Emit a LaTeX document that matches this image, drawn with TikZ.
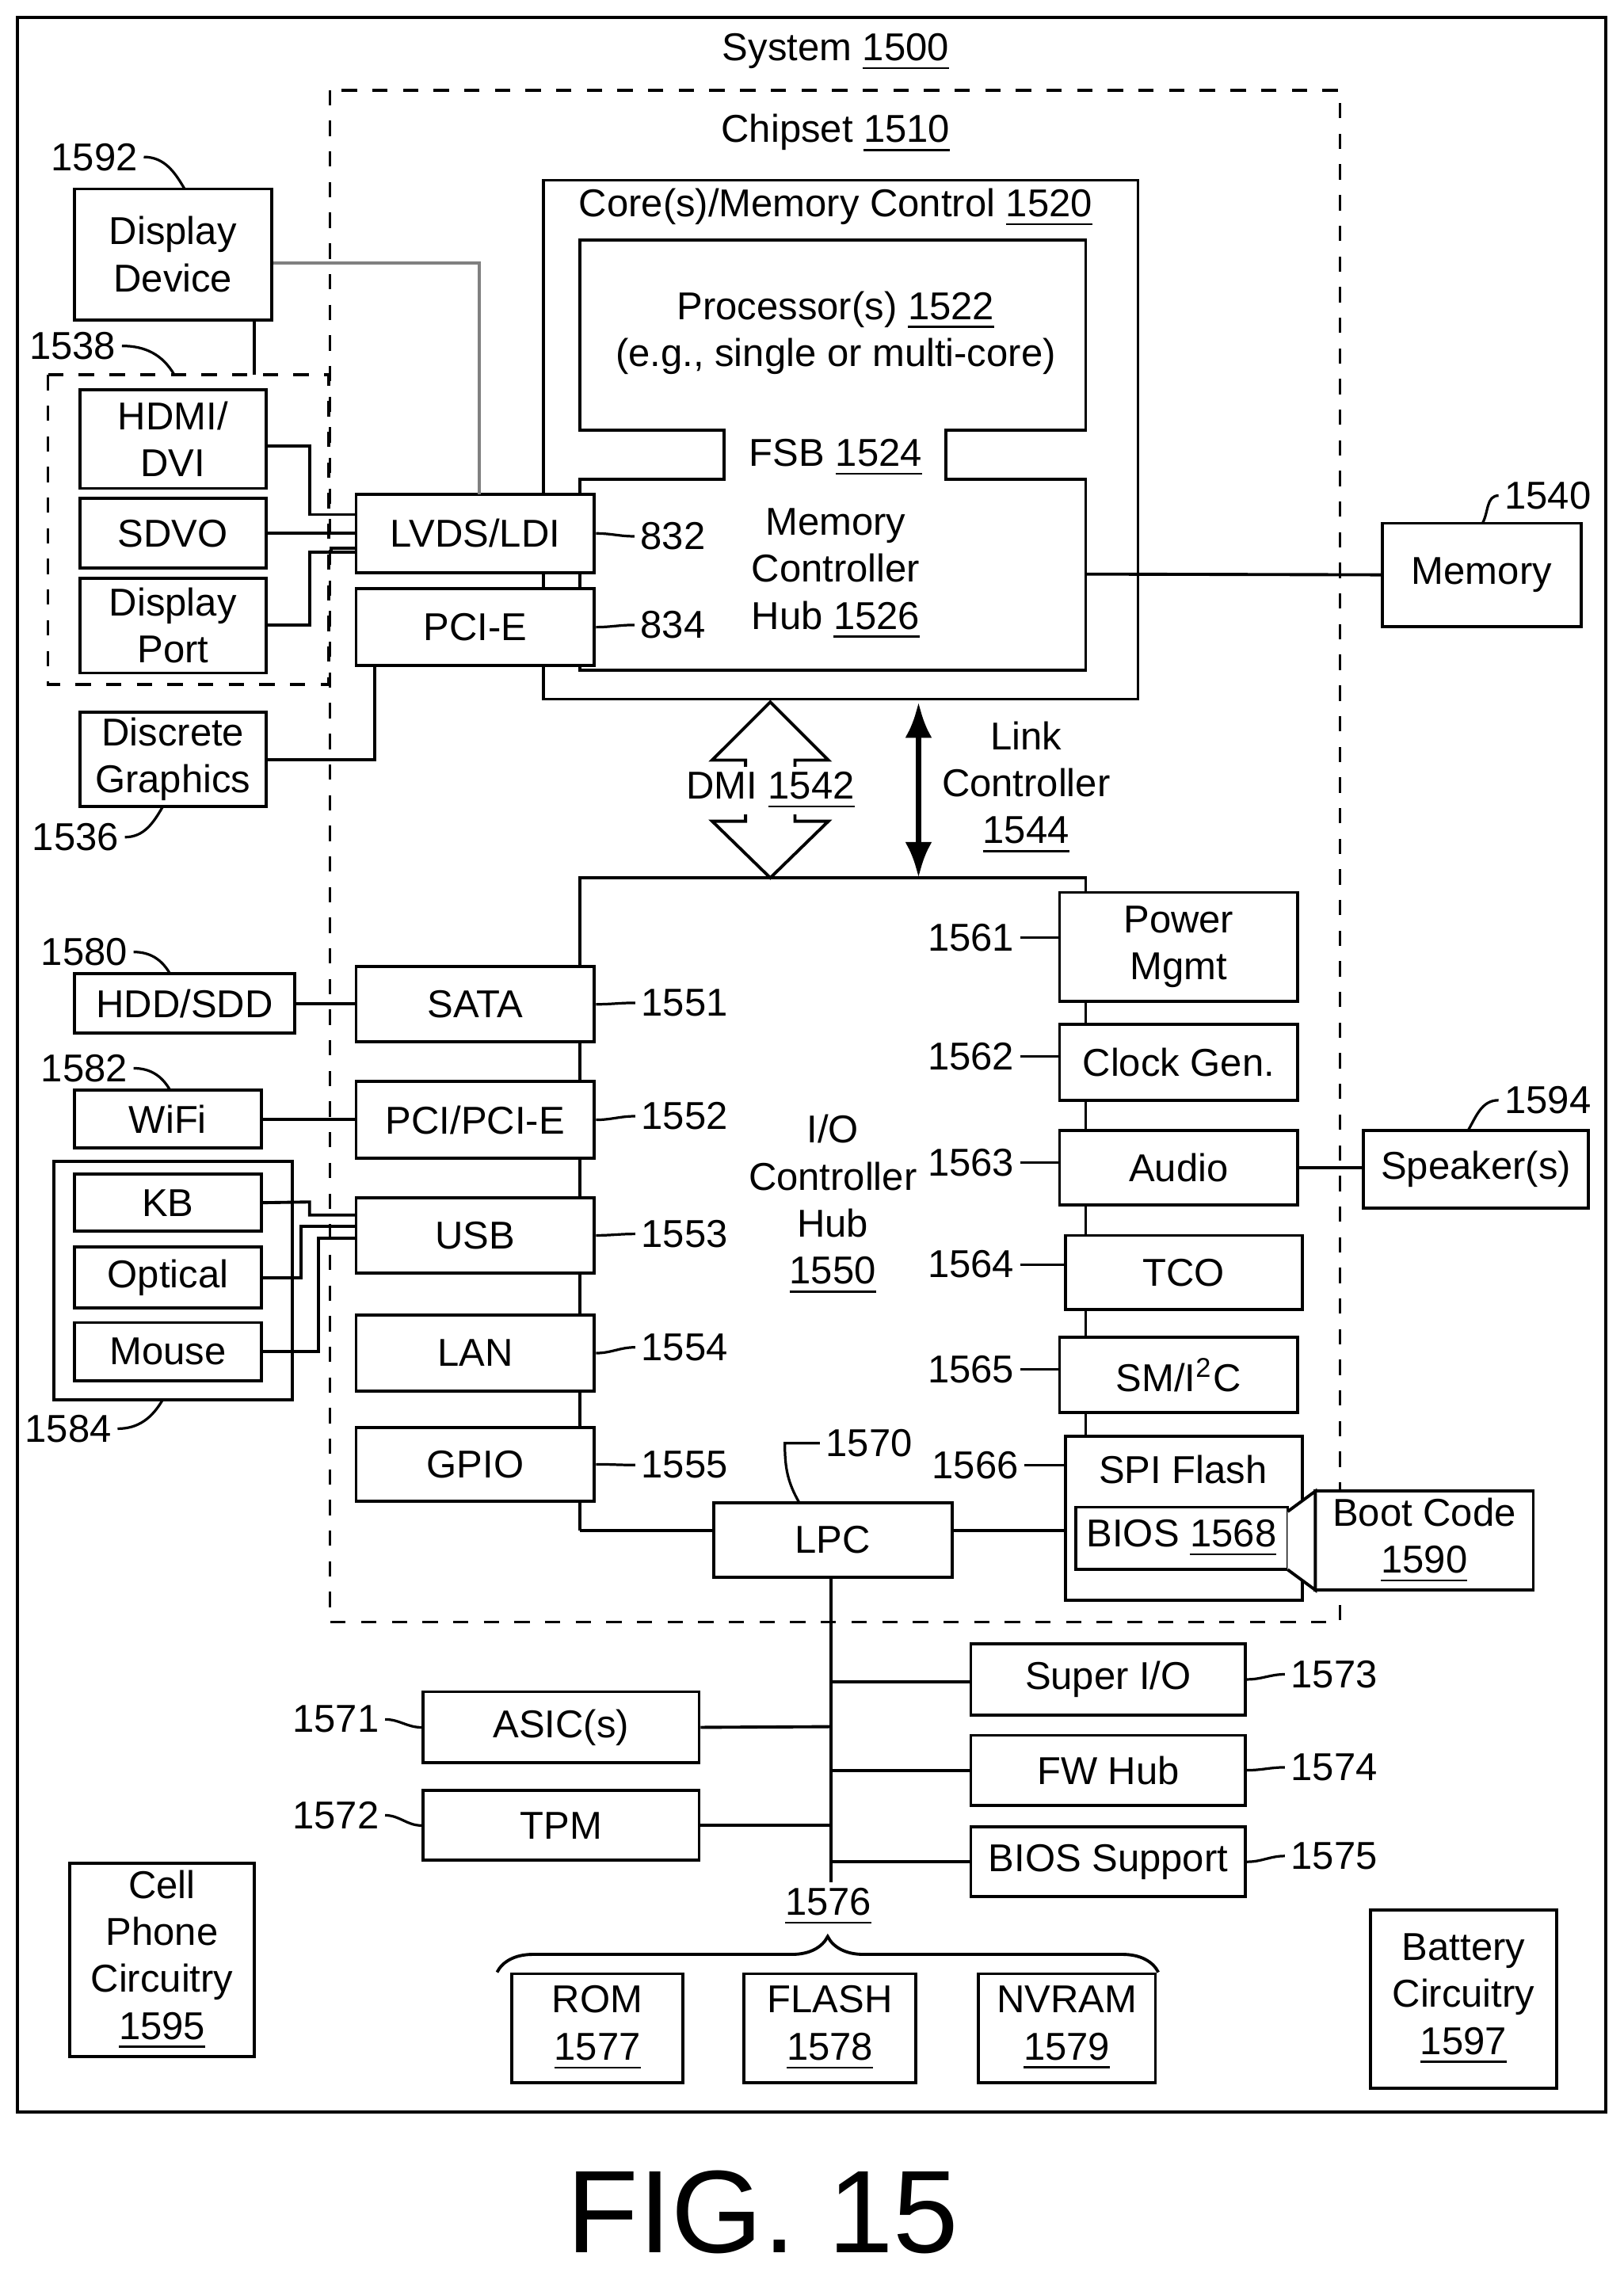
\documentclass[tikz,border=0pt]{standalone}
\usepackage{fontspec}
\setmainfont{Liberation Sans}
\usetikzlibrary{fit,decorations.pathreplacing,arrows.meta}
\newcommand{\un}[1]{\underline{#1}}
\tikzset{
  box/.style={draw, fill=white, inner sep=0pt, line width=0.6pt, label={[align=center]center:#1}},
  box/.default={},
  num/.style={inner sep=1pt},
  lead/.style={line width=0.5pt},
  wire/.style={line width=0.6pt}
}
\begin{document}
\begin{tikzpicture}[x=0.1mm, y=-0.1mm, font=\fontsize{7.6}{9.2}\selectfont]
		\useasboundingbox (0,0) rectangle (1117,1566);

		% frames
		\draw[line width=0.6pt] (12,12) rectangle (1105,1453);
		\node (sys) at (575,36) {System \un{1500}};
		\draw[dashed, line width=0.6pt] (227,62) rectangle (922,1116);
		\node (chip) at (575,92) {Chipset \un{1510}};

		% core / memory control
		\node[box, fit={(374,124)(783,481)}] (core) {};
		\node (corel) at (575,143) {Core(s)/Memory Control \un{1520}};
		\draw[line width=0.6pt, fill=white] (399,165) -- (747,165) -- (747,296) -- (651,296) -- (651,330) -- (747,330)
			-- (747,461) -- (399,461) -- (399,330) -- (498,330) -- (498,296) -- (399,296) -- cycle;
		\node[align=center] (proc) at (575,229) {Processor(s) \un{1522}\\(e.g., single or multi-core)};
		\node (fsb) at (575,315) {FSB \un{1524}};
		\node[align=center] (mch) at (575,395) {Memory\\Controller\\Hub \un{1526}};

		% display side
		\node[box={Display\\Device}, fit={(51,130)(187,220)}] (disp) {};
		\node[num] (n1592) at (65,108) {1592};
		\draw[dashed, line width=0.6pt] (33,258) rectangle (226,471);
		\node[num] (n1538) at (50,238) {1538};
		\node[box={HDMI/\\DVI}, fit={(55,268)(183,336)}] (hdmi) {};
		\node[box=SDVO, fit={(55,343)(183,391)}] (sdvo) {};
		\node[box={Display\\Port}, fit={(55,398)(183,463)}] (dport) {};
		\node[box={Discrete\\Graphics}, fit={(55,490)(183,555)}] (dgfx) {};
		\node[num] (n1536) at (52,576) {1536};
		\node[box=LVDS/LDI, fit={(245,340)(409,394)}] (lvds) {};
		\node[box=PCI-E, fit={(245,405)(409,458)}] (pcie) {};
		\node[num] (n832) at (463,369) {832};
		\node[num] (n834) at (463,430) {834};

		\draw[wire, gray] (disp.east |- 0,181) -| (330,340);
		\draw[wire] (175,220) -- (175,258);
		\draw[wire] (hdmi.east |- 0,307) -- (213,307) |- (lvds.west |- 0,354);
		\draw[wire] (sdvo.east) -- (lvds.west |- sdvo.east);
		\draw[wire] (dport.east |- 0,430) -- (213,430) -- (213,380) -- (245,380);
		\draw[wire] (228,380) -- (228,377) -- (245,377);
		\draw[wire] (dgfx.east) -| (258,458);

		% memory
		\node[box=Memory, fit={(951,360)(1088,431)}] (mem) {};
		\node[num] (n1540) at (1065,341) {1540};
		\draw[wire] (747,395) -- (mem.west);

		% DMI and link controller
		\draw[line width=0.6pt, fill=white] (530,483) -- (570,523) -- (547,523) -- (547,565) -- (570,565) -- (530,604)
			-- (490,565) -- (513,565) -- (513,523) -- (490,523) -- cycle;
		\node[fill=white, inner sep=1pt] (dmi) at (530,544) {DMI \un{1542}};
		\draw[line width=1.2pt, {Latex[length=7pt]}-{Latex[length=7pt]}] (632,483) -- (632,604);
		\node[align=center] (link) at (706,542) {Link\\Controller\\\un{1544}};

		% I/O controller hub
		\draw[wire] (399,1053) -- (399,604) -- (747,604) -- (747,988);
		\node[align=center] (ich) at (573,829) {I/O\\Controller\\Hub\\\un{1550}};
		\node[box=SATA, fit={(245,665)(409,717)}] (sata) {};
		\node[box=PCI/PCI-E, fit={(245,744)(409,797)}] (pci) {};
		\node[box=USB, fit={(245,824)(409,876)}] (usb) {};
		\node[box=LAN, fit={(245,905)(409,957)}] (lan) {};
		\node[box=GPIO, fit={(245,982)(409,1033)}] (gpio) {};
		\node[num] (n1551) at (471,690) {1551};
		\node[num] (n1552) at (471,768) {1552};
		\node[num] (n1553) at (471,849) {1553};
		\node[num] (n1554) at (471,927) {1554};
		\node[num] (n1555) at (471,1008) {1555};

		\node[box={Power\\Mgmt}, fit={(729,614)(893,689)}] (pwr) {};
		\node[box=Clock Gen., fit={(729,705)(893,757)}] (clk) {};
		\node[box=Audio, fit={(729,778)(893,829)}] (aud) {};
		\node[box=TCO, fit={(733,850)(896,901)}] (tco) {};
		\node[box=SM/I\textsuperscript{2}C, fit={(729,920)(893,972)}] (smb) {};
		\node[box, fit={(733,988)(896,1101)}] (spi) {};
		\node (spil) at (814,1011) {SPI Flash};
		\node[box={BIOS \un{1568}}, fit={(740,1037)(886,1080)}] (bios) {};
		\node[num] (n1561) at (668,645) {1561};
		\node[num] (n1562) at (668,727) {1562};
		\node[num] (n1563) at (668,800) {1563};
		\node[num] (n1564) at (668,870) {1564};
		\node[num] (n1565) at (668,942) {1565};
		\node[num] (n1566) at (671,1008) {1566};

		\node[box={Boot Code\\\un{1590}}, fit={(905,1026)(1055,1094)}] (boot) {};
		\draw[line width=0.6pt, fill=white] (886,1040) -- (905,1026) -- (905,1094) -- (886,1080);

		\node[box=LPC, fit={(491,1034)(655,1085)}] (lpc) {};
		\node[num] (n1570) at (598,993) {1570};
		\draw[wire] (399,1053) -- (lpc.west |- 0,1053);
		\draw[wire] (lpc.east |- 0,1053) -- (spi.west |- 0,1053);

		% left devices
		\node[box=HDD/SDD, fit={(51,670)(203,711)}] (hdd) {};
		\node[num] (n1580) at (58,655) {1580};
		\node[box=WiFi, fit={(51,750)(180,790)}] (wifi) {};
		\node[num] (n1582) at (58,735) {1582};
		\draw[line width=0.6pt] (37,799) rectangle (201,963);
		\node[box=KB, fit={(51,808)(180,847)}] (kb) {};
		\node[box=Optical, fit={(51,858)(180,900)}] (opt) {};
		\node[box=Mouse, fit={(51,910)(180,950)}] (mouse) {};
		\node[num] (n1584) at (47,983) {1584};
		\draw[wire] (hdd.east) -- (sata.west |- hdd.east);
		\draw[wire] (wifi.east) -- (pci.west |- wifi.east);
		\draw[wire] (kb.east) -- (213,827) |- (245,836);
		\draw[wire] (opt.east) -- (207,879) |- (245,844);
		\draw[wire] (mouse.east |- 0,930) -- (219,930) |- (245,852);

		% speaker
		\node[box=Speaker(s), fit={(938,778)(1093,831)}] (spk) {};
		\node[num] (n1594) at (1065,757) {1594};
		\draw[wire] (aud.east) -- (spk.west |- aud.east);

		% LPC bus
		\coordinate (busend) at (572,1295);
		\draw[wire] (572,1085) -- (busend);
		\node[box=Super I/O, fit={(668,1131)(857,1180)}] (sio) {};
		\node[box=FW Hub, fit={(668,1194)(857,1242)}] (fwh) {};
		\node[box=BIOS Support, fit={(668,1257)(857,1305)}] (bsup) {};
		\node[box=ASIC(s), fit={(291,1164)(481,1213)}] (asic) {};
		\node[box=TPM, fit={(291,1232)(481,1280)}] (tpm) {};
		\draw[wire] (572,1157) -- (sio.west |- 0,1157);
		\draw[wire] (572,1218) -- (fwh.west |- 0,1218);
		\draw[wire] (572,1281) -- (bsup.west |- 0,1281);
		\draw[wire] (asic.east) -- (572,1188);
		\draw[wire] (tpm.east) -- (572,1256);
		\node[num] (n1571) at (231,1183) {1571};
		\node[num] (n1572) at (231,1249) {1572};
		\node[num] (n1573) at (918,1152) {1573};
		\node[num] (n1574) at (918,1216) {1574};
		\node[num] (n1575) at (918,1277) {1575};

		% memories
		\node (n1576) at (570,1312) {\un{1576}};
		\draw[line width=0.6pt, decorate, decoration={brace, amplitude=7pt}] (342,1357) -- (797,1357);
		\node[box={ROM\\\un{1577}}, fit={(352,1358)(470,1433)}] (rom) {};
		\node[box={FLASH\\\un{1578}}, fit={(512,1358)(630,1433)}] (flash) {};
		\node[box={NVRAM\\\un{1579}}, fit={(673,1358)(795,1433)}] (nvram) {};

		\node[box={Cell\\Phone\\Circuitry\\\un{1595}}, fit={(48,1282)(175,1415)}] (cell) {};
		\node[box={Battery\\Circuitry\\\un{1597}}, fit={(943,1314)(1071,1437)}] (batt) {};

		% leaders
		\draw[lead] (n1592.east) to[out=0, in=120] (127,130);
		\draw[lead] (n1538.east) to[out=0, in=120] (120,258);
		\draw[lead] (n1536.east) to[out=0, in=-120] (112,555);
		\draw[lead] (n1540.west) to[out=180, in=60] (1020,360);
		\draw[lead] (n1580.east) to[out=0, in=120] (117,670);
		\draw[lead] (n1582.east) to[out=0, in=120] (117,750);
		\draw[lead] (n1584.east) to[out=0, in=-120] (112,963);
		\draw[lead] (n1594.west) to[out=180, in=60] (1010,778);
		\draw[lead] (n1570.west) -- (540,993) to[out=-90, in=120] (550,1034);
		\foreach \n/\b in {n832/lvds, n834/pcie, n1551/sata, n1552/pci, n1553/usb, n1554/lan, n1555/gpio}
			\draw[lead] (\n.west) to[out=180, in=0] (\b.east);
		\foreach \n/\b in {n1561/pwr, n1562/clk, n1563/aud, n1564/tco, n1565/smb, n1566/spi}
			\draw[lead] (\n.east) to[out=0, in=180] (\b.west |- \n.east);
		\foreach \n/\b in {n1571/asic, n1572/tpm}
			\draw[lead] (\n.east) to[out=0, in=180] (\b.west);
		\foreach \n/\b in {n1573/sio, n1574/fwh, n1575/bsup}
			\draw[lead] (\n.west) to[out=180, in=0] (\b.east);

		\node[font=\fontsize{23}{26}\selectfont] (fig) at (525,1522) {FIG. 15};
	\end{tikzpicture}
\end{document}
